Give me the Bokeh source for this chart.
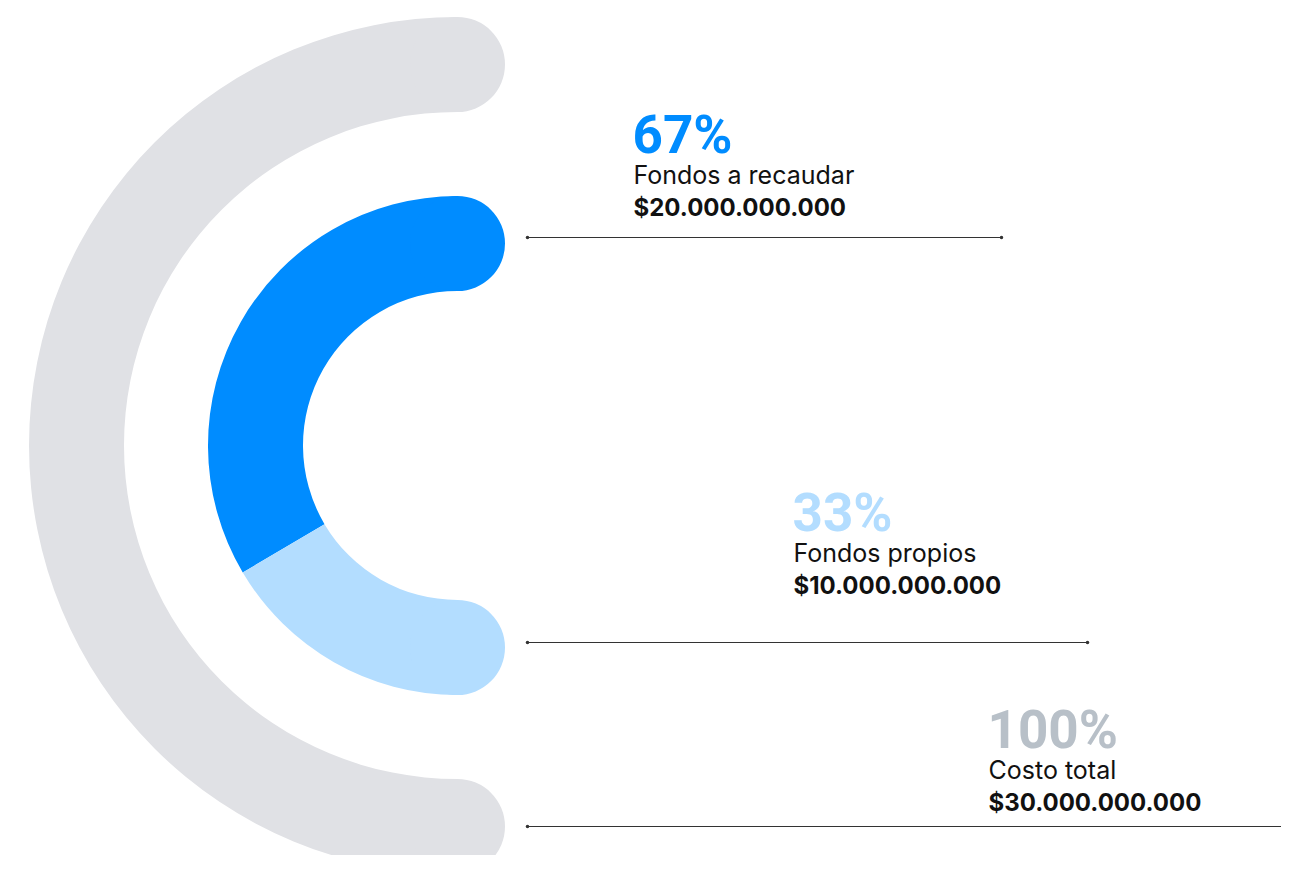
import numpy as np
from bokeh.plotting import figure
from bokeh.models import Range1d
from bokeh.core.properties import value
from bokeh.embed import file_html
from bokeh.resources import INLINE

# ---- data ----
segments = ["Fondos a recaudar", "Fondos propios"]
shares = [67, 33]
amounts = [20_000_000_000, 10_000_000_000]
total_label = "Costo total"
total_share = 100
total_amount = 30_000_000_000

def money(v):
    return "$" + f"{v:,}".replace(",", ".")

# ---- layout / style ----
PAGE_W, PAGE_H = 1297, 871
W, H = PAGE_W - 16, PAGE_H - 16
CX, CY = 457, PAGE_H - 445
R_OUT, R_IN, THICK = 381, 202, 95
GRAY = "#E0E1E5"
SEG_COLORS = ["#008CFF", "#B3DDFF"]
PCT_COLORS = ["#008CFF", "#B3DDFF", "#B8C0C8"]
TXT = "#111111"
FONT = "Inter"
PCT_FONT = "Roboto"

p = figure(width=W, height=H,
           x_range=Range1d(0, W), y_range=Range1d(PAGE_H - H, PAGE_H),
           output_backend="svg", toolbar_location=None, min_border=0,
           x_axis_location=None, y_axis_location=None)
p.grid.visible = False
p.outline_line_color = None
p.background_fill_color = "white"
p.border_fill_color = "white"

def pt(r, ang):
    return CX + r * np.cos(ang), CY + r * np.sin(ang)

# outer total ring (semicircle, left side)
a0, a1 = np.pi / 2, np.pi / 2 + np.pi * total_share / 100
p.annular_wedge(x=[CX], y=[CY], inner_radius=R_OUT - THICK / 2, outer_radius=R_OUT + THICK / 2,
                start_angle=a0, end_angle=a1, direction="anticlock",
                fill_color=GRAY, line_color=None)
xs, ys = zip(pt(R_OUT, a0), pt(R_OUT, a1))
p.circle(x=list(xs), y=list(ys), radius=THICK / 2, fill_color=GRAY, line_color=None)

# inner ring segments
start = np.pi / 2
bounds = []
for s, c in zip(shares, SEG_COLORS):
    end = start + np.pi * s / 100
    p.annular_wedge(x=[CX], y=[CY], inner_radius=R_IN - THICK / 2, outer_radius=R_IN + THICK / 2,
                    start_angle=start, end_angle=end, direction="anticlock",
                    fill_color=c, line_color=None)
    bounds.append((start, end))
    start = end
# round caps at the two free ends
cx0, cy0 = pt(R_IN, bounds[0][0])
cx1, cy1 = pt(R_IN, bounds[-1][1])
p.circle(x=[cx0], y=[cy0], radius=THICK / 2, fill_color=SEG_COLORS[0], line_color=None)
p.circle(x=[cx1], y=[cy1], radius=THICK / 2, fill_color=SEG_COLORS[-1], line_color=None)

# leader lines
line_y = [PAGE_H - 237, PAGE_H - 642, PAGE_H - 826]
line_x0 = [527, 527, 527]
line_x1 = [1001, 1087, 1300]
p.segment(x0=line_x0, y0=line_y, x1=line_x1, y1=line_y, line_color="#333333", line_width=1)
p.scatter(x=line_x0 + line_x1[:2], y=line_y + line_y[:2], size=3.5,
          fill_color="#333333", line_color=None)

# labels
pct_labels = [f"{s}%" for s in shares] + [f"{total_share}%"]
name_labels = segments + [total_label]
amt_labels = [money(a) for a in amounts] + [money(total_amount)]
lab_x = [633, 793, 988]
base_y = [152, 530, 747]

for i in range(3):
    by = PAGE_H - base_y[i]
    p.text(x=[lab_x[i] - 1], y=[by + 18], text=[pct_labels[i]], text_font=value(PCT_FONT),
           text_font_size="53px", text_font_style="bold", text_color=PCT_COLORS[i],
           text_align="left", text_baseline="alphabetic")
    p.text(x=[lab_x[i]], y=[by - 31 + 9], text=[name_labels[i]], text_font=value(FONT),
           text_font_size="25px", text_font_style="normal", text_color=TXT,
           text_align="left", text_baseline="alphabetic")
    p.text(x=[lab_x[i]], y=[by - 63 + 8], text=[amt_labels[i]], text_font=value(FONT),
           text_font_size="24px", text_font_style="bold", text_color=TXT,
           text_align="left", text_baseline="alphabetic")

open("out.html", "w").write(file_html(p, INLINE))
